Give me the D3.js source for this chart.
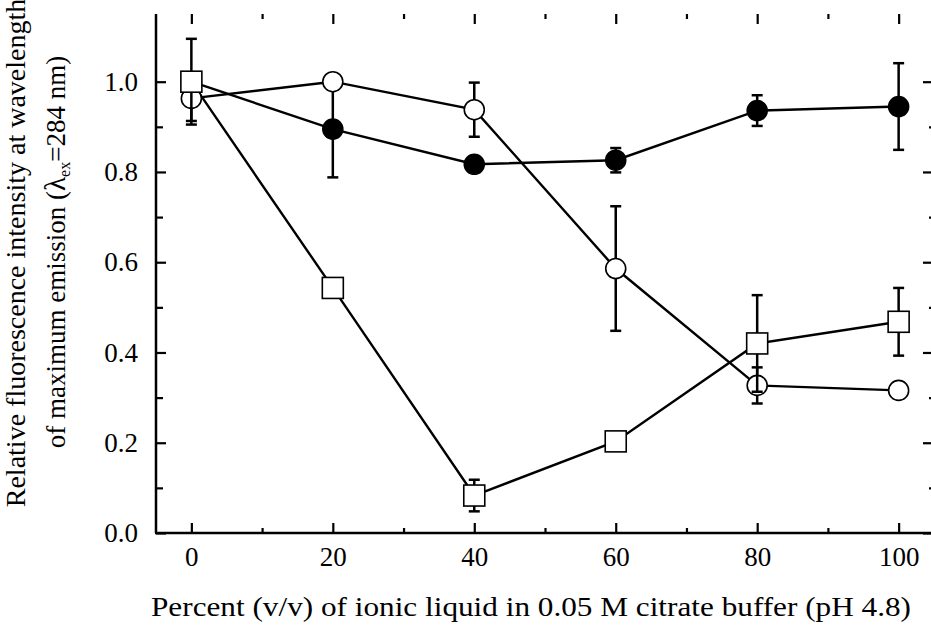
<!DOCTYPE html>
<html><head><meta charset="utf-8">
<script src="https://cdn.jsdelivr.net/npm/d3@7"></script>
<style>body{margin:0;background:#fff}svg{display:block}text{font-family:"Liberation Serif","Times New Roman",serif;fill:#000}</style>
</head><body><svg id="c" width="931" height="630"></svg>
<script>
const percent = [0, 20, 40, 60, 80, 100];
const filledVals = [1.0, 0.895, 0.817, 0.826, 0.936, 0.945];
const filledErr  = [0.0, 0.107, 0.0, 0.027, 0.034, 0.096];
const openVals   = [0.963, 1.0, 0.938, 0.586, 0.327, 0.316];
const openErr    = [0.05, 0.0, 0.06, 0.138, 0.04, 0.0];
const squareVals = [1.0, 0.543, 0.083, 0.203, 0.42, 0.468];
const squareErr  = [0.095, 0.0, 0.035, 0.01, 0.107, 0.075];
const xMajor = [0, 20, 40, 60, 80, 100];
const xMinor = [10, 30, 50, 70, 90];
const yMajor = [0.0, 0.2, 0.4, 0.6, 0.8, 1.0];
const yMinor = [0.1, 0.3, 0.5, 0.7, 0.9];
const xTitle = "Percent (v/v) of ionic liquid in 0.05 M citrate buffer (pH 4.8)";

const svg = d3.select("#c");
const L = 156, R = 934, T = 14, B = 533;
const x = d3.scaleLinear().domain([-5, 105]).range([L, R]);
const y = d3.scaleLinear().domain([0, 1.15]).range([B, T]);
const FS = 27;

svg.append("line").attr("x1", L).attr("x2", L).attr("y1", T).attr("y2", B).attr("stroke", "#000").attr("stroke-width", 2.5);
svg.append("line").attr("x1", L - 1).attr("x2", R).attr("y1", B).attr("y2", B).attr("stroke", "#000").attr("stroke-width", 2.5);

function tickAxis(g) {
  g.selectAll(".domain").remove();
  g.selectAll(".tick line").attr("stroke", "#000").attr("stroke-width", 2.2);
}
svg.append("g").attr("transform", `translate(0,${B})`)
  .call(d3.axisBottom(x).tickValues(xMajor).tickSizeInner(-10).tickSizeOuter(0).tickPadding(14).tickFormat(d3.format("d")))
  .call(g => { tickAxis(g); g.selectAll("text").attr("font-size", FS).style("font-family", "Liberation Serif"); });
svg.append("g").attr("transform", `translate(0,${B})`)
  .call(d3.axisBottom(x).tickValues(xMinor).tickSizeInner(-5).tickSizeOuter(0).tickFormat(""))
  .call(tickAxis);
svg.append("g").attr("transform", `translate(0,${T})`)
  .call(d3.axisTop(x).tickValues(xMajor).tickSizeInner(-10).tickSizeOuter(0).tickFormat(""))
  .call(tickAxis);
svg.append("g").attr("transform", `translate(0,${T})`)
  .call(d3.axisTop(x).tickValues(xMinor).tickSizeInner(-5).tickSizeOuter(0).tickFormat(""))
  .call(tickAxis);
svg.append("g").attr("transform", `translate(${L},0)`)
  .call(d3.axisLeft(y).tickValues(yMajor).tickSizeInner(-10).tickSizeOuter(0).tickPadding(18).tickFormat(d3.format(".1f")))
  .call(g => { tickAxis(g); g.selectAll("text").attr("font-size", FS).style("font-family", "Liberation Serif"); });
svg.append("g").attr("transform", `translate(${L},0)`)
  .call(d3.axisLeft(y).tickValues(yMinor).tickSizeInner(-7).tickSizeOuter(0).tickFormat(""))
  .call(tickAxis);
svg.append("g").attr("transform", `translate(${R},0)`)
  .call(d3.axisRight(y).tickValues(yMajor).tickSizeInner(-11).tickSizeOuter(0).tickFormat(""))
  .call(tickAxis);
svg.append("g").attr("transform", `translate(${R},0)`)
  .call(d3.axisRight(y).tickValues(yMinor).tickSizeInner(-5).tickSizeOuter(0).tickFormat(""))
  .call(tickAxis);

const series = [
  {vals: filledVals, err: filledErr, shape: "circle", fill: "#000"},
  {vals: openVals, err: openErr, shape: "circle", fill: "#fff"},
  {vals: squareVals, err: squareErr, shape: "square", fill: "#fff"}
];
const line = d3.line().x((d, i) => x(percent[i])).y(d => y(d));
series.forEach(s => {
  svg.append("path").datum(s.vals).attr("d", line).attr("fill", "none").attr("stroke", "#000").attr("stroke-width", 2.4);
});
series.forEach(s => {
  const g = svg.append("g");
  s.vals.forEach((v, i) => {
    const e = s.err[i];
    if (e > 0) {
      const cx = x(percent[i]);
      g.append("line").attr("x1", cx).attr("x2", cx).attr("y1", y(v - e)).attr("y2", y(v + e)).attr("stroke", "#000").attr("stroke-width", 2.5);
      [v - e, v + e].forEach(t => g.append("line").attr("x1", cx - 5.5).attr("x2", cx + 5.5).attr("y1", y(t)).attr("y2", y(t)).attr("stroke", "#000").attr("stroke-width", 2.5));
    }
  });
  s.vals.forEach((v, i) => {
    const cx = x(percent[i]), cy = y(v);
    if (s.shape === "circle") {
      g.append("circle").attr("cx", cx).attr("cy", cy).attr("r", 10).attr("fill", s.fill).attr("stroke", "#000").attr("stroke-width", 1.6);
    } else {
      g.append("rect").attr("x", cx - 10.5).attr("y", cy - 10.5).attr("width", 21).attr("height", 21).attr("fill", s.fill).attr("stroke", "#000").attr("stroke-width", 1.6);
    }
  });
});

svg.append("text").attr("x", (L + R) / 2 - 14).attr("y", 616).attr("text-anchor", "middle").attr("font-size", FS)
  .attr("textLength", 760).attr("lengthAdjust", "spacingAndGlyphs").text(xTitle);
svg.append("text").attr("transform", "translate(25,253) rotate(-90)").attr("text-anchor", "middle").attr("font-size", 28)
  .text("Relative fluorescence intensity at wavelength");
const yl2 = svg.append("text").attr("transform", "translate(65,252) rotate(-90)").attr("text-anchor", "middle").attr("font-size", 27);
yl2.append("tspan").text("of maximum emission (");
yl2.append("tspan").text("λ").attr("font-size", 29);
yl2.append("tspan").text("ex").attr("font-size", 16).attr("dy", 5);
yl2.append("tspan").text("=284 nm)").attr("dy", -5);
</script></body></html>
